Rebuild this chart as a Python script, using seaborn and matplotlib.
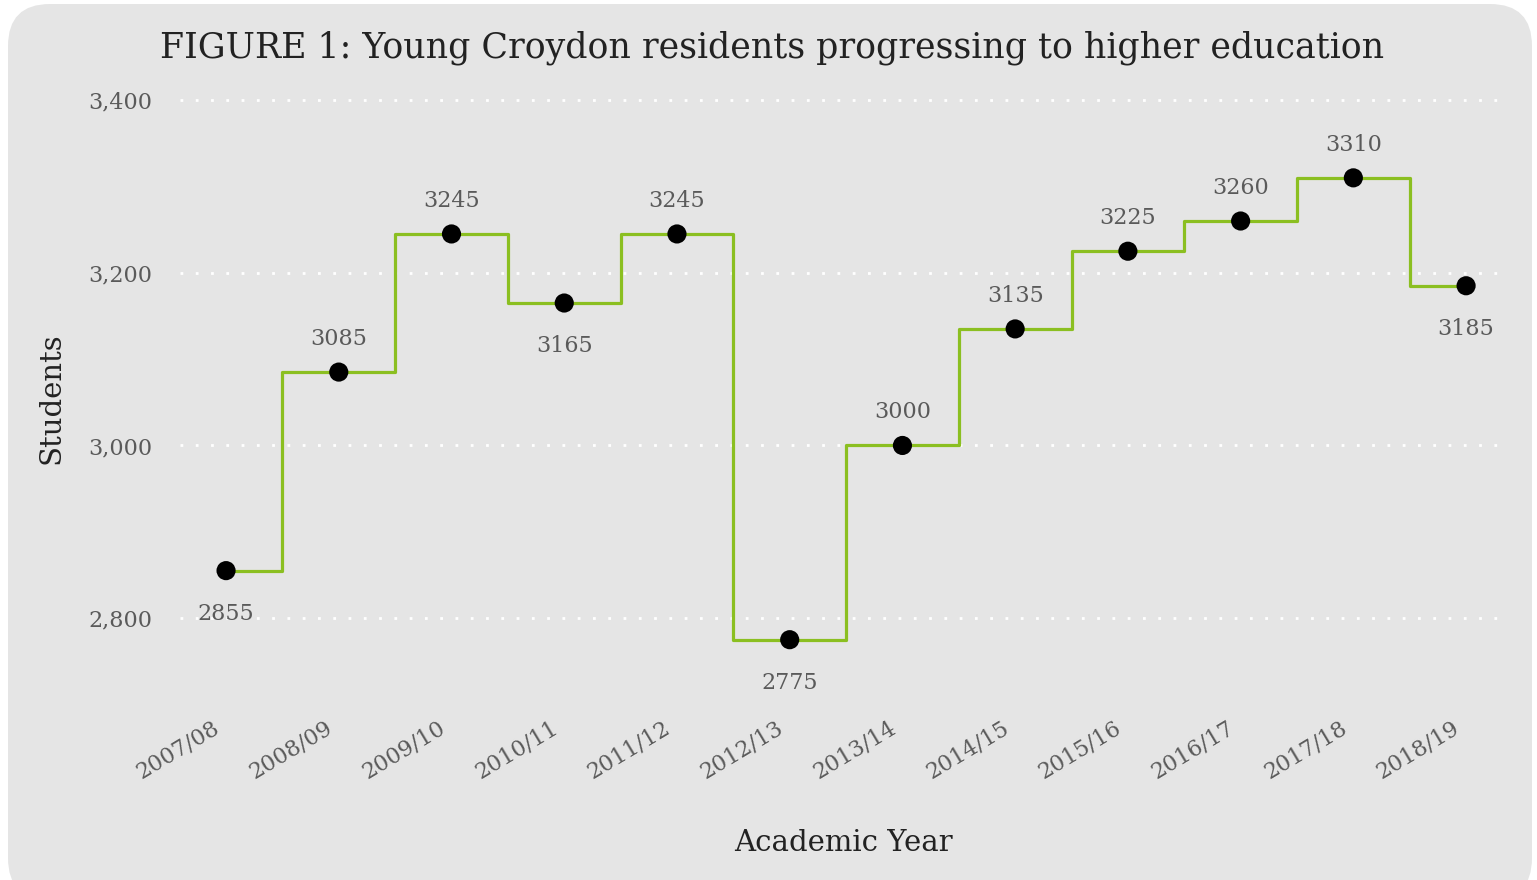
import matplotlib
matplotlib.use("Agg")
import matplotlib.pyplot as plt
from matplotlib.patches import FancyBboxPatch
from matplotlib.transforms import IdentityTransform, ScaledTranslation
from matplotlib.ticker import FuncFormatter
import seaborn as sns
import pandas as pd

years = ["2007/08", "2008/09", "2009/10", "2010/11", "2011/12", "2012/13",
         "2013/14", "2014/15", "2015/16", "2016/17", "2017/18", "2018/19"]
students = [2855, 3085, 3245, 3165, 3245, 2775, 3000, 3135, 3225, 3260, 3310, 3185]
label_below = [True, False, False, True, False, True, False, False, False, False, False, True]

sns.set_style("white")
plt.rcParams["font.family"] = ["DejaVu Serif"]

BG = "#e5e5e5"
fig = plt.figure(figsize=(15.37, 8.8), dpi=100)
fig.patch.set_facecolor("white")

bg = FancyBboxPatch((8, -20), 1524, 892 - 8 + 12, boxstyle="round,pad=0,rounding_size=42",
                    transform=IdentityTransform(), facecolor=BG, edgecolor="none", zorder=-10)
fig.patches.append(bg)

ax = fig.add_axes([0.117, 0.1995, 0.864, 0.6965])
ax.set_zorder(1)
ax.set_facecolor("none")

df = pd.DataFrame({"idx": range(len(years)), "students": students})
sns.lineplot(data=df, x="idx", y="students", ax=ax, color="#8bbf21", linewidth=2.3,
             drawstyle="steps-mid", zorder=3)
sns.scatterplot(data=df, x="idx", y="students", ax=ax, color="black", s=190,
                edgecolor="none", zorder=4)

for i, (v, below) in enumerate(zip(students, label_below)):
    ax.annotate(str(v), (i, v), xytext=(0, -31 if below else 24), textcoords="offset points",
                ha="center", va="center", fontsize=16, color="#5a5a5a")

ax.set_xlim(-0.41, 11.37)
ax.set_ylim(2700, 3410)
ax.set_yticks([2800, 3000, 3200, 3400])
ax.yaxis.set_major_formatter(FuncFormatter(lambda v, p: f"{int(v):,}"))
ax.set_xticks(range(len(years)))
ax.set_xticklabels(years, rotation=31, ha="right", va="top", rotation_mode="anchor")
ax.tick_params(axis="both", length=0, labelsize=16, labelcolor="#5a5a5a")
ax.tick_params(axis="y", pad=20)
ax.tick_params(axis="x", pad=9)
shift = ScaledTranslation(-0.14, 0, fig.dpi_scale_trans)
for lab in ax.get_xticklabels():
    lab.set_transform(lab.get_transform() + shift)

ax.grid(axis="y", color="white", linestyle=(0, (1, 4.5)), linewidth=2)
ax.grid(axis="x", visible=False)
for s in ax.spines.values():
    s.set_visible(False)

ax.set_xlabel("Academic Year", fontsize=21, color="#222222", labelpad=33)
ax.set_ylabel("Students", fontsize=21, color="#222222", labelpad=16)

fig.text(0.5025, 0.946, "FIGURE 1: Young Croydon residents progressing to higher education",
         ha="center", va="center", fontsize=25, color="#222222")

fig.savefig("out.png", dpi=100, facecolor="white")
